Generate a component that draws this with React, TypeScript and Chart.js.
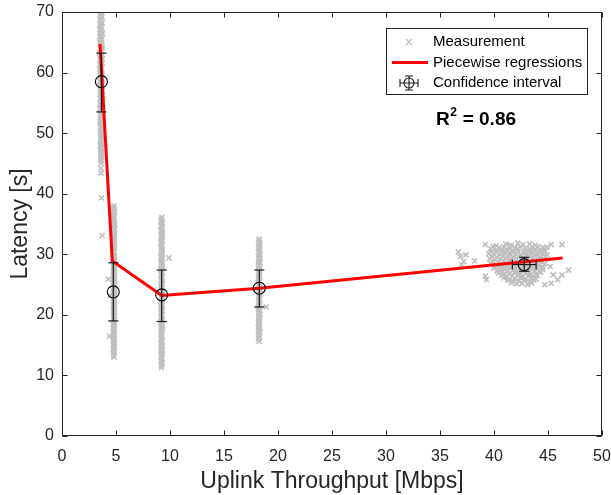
import React, { useEffect, useRef } from "react";
import { Chart, registerables } from "chart.js";

Chart.register(...registerables);

// ---------- DATA ----------
const xTicksMax = 50;
const yTicksMax = 70;

// Measurement clouds: [throughput Mbps, latency s]
const meas1: [number, number][] = [
  [3.62,70.2],[3.55,69.6],[3.7,69.1],[3.6,68.5],[3.52,68.0],[3.68,67.4],[3.58,66.9],[3.74,66.4],[3.5,65.9],[3.64,65.3],
  [3.56,64.8],[3.71,64.2],[3.6,63.7],[3.48,63.2],[3.66,62.6],[3.55,62.1],[3.73,61.6],[3.61,61.0],[3.5,60.5],[3.68,60.0],
  [3.57,59.4],[3.75,58.9],[3.63,58.3],[3.52,57.8],[3.69,57.3],[3.59,56.7],[3.74,56.2],[3.54,55.7],[3.66,55.1],[3.6,54.6],
  [3.49,54.0],[3.71,53.5],[3.58,53.0],[3.65,52.4],[3.53,51.9],[3.72,51.4],[3.61,50.8],[3.56,50.3],[3.68,49.7],[3.6,49.2],
  [3.64,48.6],[3.55,48.0],[3.7,47.5],[3.6,46.9],[3.66,46.3],[3.58,45.7],[3.63,45.0],[3.6,44.2],[3.62,43.4],[3.66,39.3],[3.72,33.1]
];
const meas1b: [number, number][] = [
  [3.57,69.9],[3.66,69.3],[3.53,68.8],[3.72,68.2],[3.6,67.7],[3.5,67.1],[3.69,66.6],[3.56,66.1],[3.65,65.6],[3.52,65.0],
  [3.7,64.5],[3.58,63.9],[3.67,63.4],[3.54,62.9],[3.73,62.3],[3.6,61.8],[3.51,61.3],[3.66,60.7],[3.56,60.2],[3.72,59.7],
  [3.62,59.1],[3.53,58.6],[3.68,58.0],[3.58,57.5],[3.74,57.0],[3.55,56.4],[3.64,55.9],[3.7,55.4],[3.52,54.8],[3.62,54.3],
  [3.67,53.7],[3.55,53.2],[3.71,52.7],[3.6,52.1],[3.56,51.6],[3.66,51.1],[3.63,50.5],[3.58,50.0],[3.7,49.4],[3.57,48.9],
  [3.66,48.3],[3.61,47.7],[3.55,47.2],[3.68,46.6],[3.6,46.0],[3.65,45.4]
];
const meas2: [number, number][] = [
  [4.82,38.0],[4.76,37.4],[4.86,36.9],[4.8,36.3],[4.73,35.8],[4.84,35.2],[4.78,34.7],[4.88,34.1],[4.75,33.6],[4.82,33.0],
  [4.79,32.5],[4.85,31.9],[4.74,31.4],[4.81,30.8],[4.77,30.3],[4.87,29.7],[4.8,29.2],[4.74,28.6],[4.83,28.1],[4.78,27.5],
  [4.86,27.0],[4.76,26.4],[4.82,25.9],[4.79,25.3],[4.85,24.8],[4.73,24.2],[4.81,23.7],[4.77,23.1],[4.86,22.6],[4.8,22.0],
  [4.75,21.5],[4.84,20.9],[4.78,20.4],[4.88,19.8],[4.76,19.3],[4.82,18.7],[4.79,18.2],[4.85,17.6],[4.74,17.1],[4.81,16.5],
  [4.77,16.0],[4.86,15.4],[4.8,14.9],[4.75,14.3],[4.83,13.8],[4.79,13.2],[4.3,25.9],[4.38,16.5],[4.45,23.2]
];
const meas2b: [number, number][] = [
  [4.79,37.7],[4.84,37.1],[4.75,36.6],[4.83,36.0],[4.78,35.5],[4.87,34.9],[4.74,34.4],[4.81,33.8],[4.86,33.3],[4.77,32.7],
  [4.83,32.2],[4.76,31.6],[4.85,31.1],[4.79,30.5],[4.73,30.0],[4.84,29.4],[4.77,28.9],[4.86,28.3],[4.8,27.8],[4.75,27.2],
  [4.83,26.7],[4.79,26.1],[4.87,25.6],[4.74,25.0],[4.82,24.5],[4.78,23.9],[4.85,23.4],[4.76,22.8],[4.83,22.3],[4.78,21.7],
  [4.87,21.2],[4.75,20.6],[4.82,20.1],[4.79,19.5],[4.84,19.0],[4.74,18.4],[4.81,17.9],[4.77,17.3],[4.86,16.8],[4.79,16.2],
  [4.74,15.7],[4.83,15.1],[4.78,14.6],[4.85,14.0],[4.76,13.5],[4.82,13.0]
];
const meas3: [number, number][] = [
  [9.25,36.1],[9.18,35.5],[9.29,35.0],[9.22,34.4],[9.16,33.9],[9.27,33.3],[9.2,32.8],[9.31,32.2],[9.17,31.7],[9.24,31.1],
  [9.21,30.6],[9.28,30.0],[9.15,29.5],[9.23,28.9],[9.19,28.4],[9.3,27.8],[9.22,27.3],[9.16,26.7],[9.26,26.2],[9.2,25.6],
  [9.29,25.1],[9.18,24.5],[9.24,24.0],[9.21,23.4],[9.27,22.9],[9.15,22.3],[9.23,21.8],[9.19,21.2],[9.3,20.7],[9.22,20.1],
  [9.17,19.6],[9.26,19.0],[9.2,18.5],[9.31,17.9],[9.18,17.4],[9.24,16.8],[9.21,16.3],[9.28,15.7],[9.16,15.2],[9.23,14.6],
  [9.19,14.1],[9.29,13.5],[9.22,13.0],[9.17,12.4],[9.25,11.9],[9.21,11.3],[9.9,29.4]
];
const meas3b: [number, number][] = [
  [9.21,35.8],[9.27,35.2],[9.17,34.7],[9.25,34.1],[9.3,33.6],[9.19,33.0],[9.24,32.5],[9.16,31.9],[9.28,31.4],[9.2,30.8],
  [9.26,30.3],[9.18,29.7],[9.29,29.2],[9.21,28.6],[9.25,28.1],[9.17,27.5],[9.28,27.0],[9.23,26.4],[9.19,25.9],[9.27,25.3],
  [9.16,24.8],[9.22,24.2],[9.3,23.7],[9.18,23.1],[9.25,22.6],[9.2,22.0],[9.28,21.5],[9.17,20.9],[9.24,20.4],[9.2,19.8],
  [9.29,19.3],[9.16,18.7],[9.23,18.2],[9.27,17.6],[9.19,17.1],[9.25,16.5],[9.17,16.0],[9.24,15.4],[9.3,14.9],[9.2,14.3],
  [9.26,13.8],[9.18,13.2],[9.23,12.7],[9.28,12.1],[9.2,11.6]
];
const meas4: [number, number][] = [
  [18.28,32.5],[18.21,31.9],[18.32,31.4],[18.25,30.8],[18.19,30.3],[18.3,29.7],[18.23,29.2],[18.34,28.6],[18.2,28.1],[18.27,27.5],
  [18.24,27.0],[18.31,26.4],[18.18,25.9],[18.26,25.3],[18.22,24.8],[18.33,24.2],[18.25,23.7],[18.19,23.1],[18.29,22.6],[18.23,22.0],
  [18.32,21.5],[18.21,20.9],[18.27,20.4],[18.24,19.8],[18.3,19.3],[18.18,18.7],[18.26,18.2],[18.22,17.6],[18.33,17.1],[18.25,16.5],
  [18.2,16.0],[18.27,15.6],[18.9,21.3]
];
const meas4b: [number, number][] = [
  [18.24,32.2],[18.3,31.6],[18.2,31.1],[18.27,30.5],[18.33,30.0],[18.22,29.4],[18.28,28.9],[18.19,28.3],[18.31,27.8],[18.23,27.2],
  [18.29,26.7],[18.2,26.1],[18.32,25.6],[18.24,25.0],[18.28,24.5],[18.19,23.9],[18.3,23.4],[18.26,22.8],[18.21,22.3],[18.29,21.7],
  [18.18,21.2],[18.25,20.6],[18.33,20.1],[18.21,19.5],[18.27,19.0],[18.23,18.4],[18.31,17.9],[18.19,17.3],[18.26,16.8],[18.22,16.2]
];
const meas5: [number, number][] = [
  [41.1,31.7],[41.6,31.5],[42.2,31.8],[42.7,31.6],[43.3,31.7],[43.8,31.5],
  [39.7,30.9],[40.2,30.7],[40.7,30.9],[41.2,30.8],[41.7,30.6],[42.2,30.9],[42.8,30.7],[43.3,30.9],[43.8,30.8],[44.3,30.6],[44.7,30.9],
  [39.5,30.1],[40.0,29.9],[40.5,30.0],[41.0,30.2],[41.5,29.9],[42.0,30.1],[42.5,29.8],[43.0,30.0],[43.5,30.2],[44.0,29.9],[44.5,30.1],[44.9,29.9],
  [39.6,29.3],[40.1,29.1],[40.6,29.2],[41.1,29.4],[41.6,29.1],[42.1,29.3],[42.6,29.0],[43.1,29.2],[43.6,29.4],[44.1,29.1],[44.6,29.3],
  [39.7,28.5],[40.2,28.3],[40.7,28.4],[41.2,28.6],[41.7,28.3],[42.2,28.5],[42.7,28.2],[43.2,28.4],[43.7,28.6],[44.2,28.3],[44.7,28.4],
  [40.0,27.7],[40.5,27.5],[41.0,27.6],[41.5,27.8],[42.0,27.5],[42.5,27.7],[43.0,27.4],[43.5,27.6],[44.0,27.8],[44.5,27.5],
  [40.4,26.9],[40.9,26.7],[41.4,26.8],[41.9,27.0],[42.4,26.7],[42.9,26.9],[43.4,26.6],[43.9,26.8],[44.3,27.0],
  [40.9,26.1],[41.4,25.9],[41.9,26.0],[42.4,26.2],[42.9,25.9],[43.4,26.1],[43.9,25.9],
  [41.6,25.3],[42.1,25.1],[42.6,25.2],[43.1,25.0],[43.5,25.3],
  [36.7,30.4],[36.9,29.6],[37.2,28.8],[37.4,29.9],[37.0,28.3],[38.2,28.9],[39.2,31.6],[39.2,26.4],[39.3,25.8],
  [45.3,31.6],[46.3,31.6],[45.2,28.0],[45.5,26.6],[46.3,26.6],[45.3,25.2],[45.9,25.8],[44.7,25.0],[46.9,27.4],[40.2,31.4],[44.9,31.2]
];
const meas5b: [number, number][] = [
  [39.9,31.3],[40.45,31.1],[40.95,31.2],[41.45,31.4],[41.95,31.1],[42.45,31.3],[42.95,31.0],[43.55,31.2],[44.05,31.3],[44.5,31.1],
  [39.75,30.5],[40.25,30.3],[40.75,30.4],[41.25,30.6],[41.75,30.3],[42.25,30.5],[42.75,30.2],[43.25,30.4],[43.75,30.6],[44.25,30.3],[44.7,30.5],
  [39.8,29.7],[40.3,29.5],[40.8,29.6],[41.3,29.8],[41.8,29.5],[42.3,29.7],[42.8,29.4],[43.3,29.6],[43.8,29.8],[44.3,29.5],[44.75,29.6],
  [39.9,28.9],[40.4,28.7],[40.9,28.8],[41.4,29.0],[41.9,28.7],[42.4,28.9],[42.9,28.6],[43.4,28.8],[43.9,29.0],[44.4,28.7],
  [40.1,28.1],[40.6,27.9],[41.1,28.0],[41.6,28.2],[42.1,27.9],[42.6,28.1],[43.1,27.8],[43.6,28.0],[44.1,28.2],[44.5,27.9],
  [40.3,27.3],[40.8,27.1],[41.3,27.2],[41.8,27.4],[42.3,27.1],[42.8,27.3],[43.3,27.0],[43.8,27.2],[44.2,27.4],
  [40.7,26.5],[41.2,26.3],[41.7,26.4],[42.2,26.6],[42.7,26.3],[43.2,26.5],[43.7,26.3],[44.0,26.5],
  [41.3,25.7],[41.8,25.5],[42.3,25.6],[42.8,25.8],[43.3,25.5],[43.7,25.7]
];

// Piecewise regression breakpoints
const regX = [3.52, 4.66, 9.23, 18.27, 46.35];
const regY = [64.7, 28.9, 23.2, 24.4, 29.4];

// Confidence intervals
const ciX = [3.65, 4.75, 9.23, 18.27, 42.8];
const ciY = [58.5, 23.8, 23.3, 24.4, 28.3];
const ciLow = [53.5, 19.0, 18.9, 21.3, 27.2];
const ciHigh = [63.2, 28.6, 27.4, 27.4, 29.5];
const ciXErr = [0, 0, 0, 0, 1.1];

const legendLabels = ["Measurement", "Piecewise regressions", "Confidence interval"];
const rSquared = "0.86";
const xTitle = "Uplink Throughput [Mbps]";
const yTitle = "Latency [s]";

const FONT = "'Liberation Sans', Arial, Helvetica, sans-serif";
const AXIS = "#262626";
const GRAY = "#bfbfbf";

const toPts = (a: [number, number][]) => a.map(([x, y]) => ({ x, y }));

const overlayPlugin = {
  id: "overlay",
  afterDatasetsDraw(chart: any) {
    const { ctx, scales } = chart;
    const xs = scales.x, ys = scales.y;
    ctx.save();
    ctx.strokeStyle = "#1a1a1a";
    ctx.lineWidth = 1.2;
    const line = (x1: number, y1: number, x2: number, y2: number) => {
      ctx.beginPath(); ctx.moveTo(x1, y1); ctx.lineTo(x2, y2); ctx.stroke();
    };
    for (let i = 0; i < ciX.length; i++) {
      const px = xs.getPixelForValue(ciX[i]);
      const py = ys.getPixelForValue(ciY[i]);
      const lo = ys.getPixelForValue(ciLow[i]);
      const hi = ys.getPixelForValue(ciHigh[i]);
      line(px, lo, px, hi);
      line(px - 5, lo, px + 5, lo);
      line(px - 5, hi, px + 5, hi);
      if (ciXErr[i] > 0) {
        const l = xs.getPixelForValue(ciX[i] - ciXErr[i]);
        const r = xs.getPixelForValue(ciX[i] + ciXErr[i]);
        line(l, py, r, py);
        line(l, py - 5, l, py + 5);
        line(r, py - 5, r, py + 5);
      }
    }
    ctx.restore();
  },
  afterDraw(chart: any) {
    const { ctx, chartArea: ca, scales } = chart;
    const xs = scales.x, ys = scales.y;
    ctx.save();
    // frame
    ctx.strokeStyle = AXIS;
    ctx.lineWidth = 1;
    const L = Math.round(ca.left) + 0.5, R = Math.round(ca.right) - 0.5;
    const T = Math.round(ca.top) + 0.5, B = Math.round(ca.bottom) - 0.5;
    ctx.strokeRect(L, T, R - L, B - T);
    const tl = 5;
    ctx.beginPath();
    xs.ticks.forEach((t: any) => {
      const px = Math.round(xs.getPixelForValue(t.value)) + 0.5;
      ctx.moveTo(px, B); ctx.lineTo(px, B - tl);
      ctx.moveTo(px, T); ctx.lineTo(px, T + tl);
    });
    ys.ticks.forEach((t: any) => {
      const py = Math.round(ys.getPixelForValue(t.value)) + 0.5;
      ctx.moveTo(L, py); ctx.lineTo(L + tl, py);
      ctx.moveTo(R, py); ctx.lineTo(R - tl, py);
    });
    ctx.stroke();

    // legend
    const bx = ca.right - 216, by = ca.top + 16, bw = 201, bh = 66;
    ctx.fillStyle = "#ffffff";
    ctx.fillRect(bx, by, bw, bh);
    ctx.strokeStyle = AXIS;
    ctx.lineWidth = 1;
    ctx.strokeRect(Math.round(bx) + 0.5, Math.round(by) + 0.5, bw, bh);
    const symX = bx + 23;
    const textX = bx + 47;
    const rows = [by + 14, by + 34.5, by + 55];
    // cross
    ctx.strokeStyle = GRAY; ctx.lineWidth = 1.2;
    ctx.beginPath();
    ctx.moveTo(symX - 3, rows[0] - 3); ctx.lineTo(symX + 3, rows[0] + 3);
    ctx.moveTo(symX + 3, rows[0] - 3); ctx.lineTo(symX - 3, rows[0] + 3);
    ctx.stroke();
    // red line
    ctx.strokeStyle = "#ff0000"; ctx.lineWidth = 3;
    ctx.beginPath(); ctx.moveTo(bx + 6, rows[1]); ctx.lineTo(bx + 42, rows[1]); ctx.stroke();
    // CI symbol
    ctx.strokeStyle = "#1a1a1a"; ctx.lineWidth = 1.1;
    const cy = rows[2];
    ctx.beginPath();
    ctx.moveTo(symX, cy - 7); ctx.lineTo(symX, cy + 7);
    ctx.moveTo(symX - 4, cy - 7); ctx.lineTo(symX + 4, cy - 7);
    ctx.moveTo(symX - 4, cy + 7); ctx.lineTo(symX + 4, cy + 7);
    ctx.moveTo(symX - 9, cy); ctx.lineTo(symX + 9, cy);
    ctx.moveTo(symX - 9, cy - 4); ctx.lineTo(symX - 9, cy + 4);
    ctx.moveTo(symX + 9, cy - 4); ctx.lineTo(symX + 9, cy + 4);
    ctx.stroke();
    ctx.beginPath(); ctx.arc(symX, cy, 5, 0, Math.PI * 2); ctx.stroke();
    ctx.fillStyle = "#000";
    ctx.font = `15px ${FONT}`;
    ctx.textBaseline = "middle";
    ctx.textAlign = "left";
    legendLabels.forEach((lab, i) => ctx.fillText(lab, textX, rows[i]));

    // R^2
    const rx = ca.right - 166, ry = ca.top + 113;
    ctx.textBaseline = "alphabetic";
    ctx.font = `bold 19px ${FONT}`;
    ctx.fillText("R", rx, ry);
    const w1 = ctx.measureText("R").width;
    ctx.font = `bold 12px ${FONT}`;
    ctx.fillText("2", rx + w1 + 0.5, ry - 9);
    const w2 = ctx.measureText("2").width;
    ctx.font = `bold 19px ${FONT}`;
    ctx.fillText(" = " + rSquared, rx + w1 + w2 + 1, ry);
    ctx.restore();
  },
};

export default function App() {
  const ref = useRef<HTMLCanvasElement>(null);
  useEffect(() => {
    if (!ref.current) return;
    Chart.defaults.font.family = FONT;
    const measStyle = {
      label: "Measurement",
      pointStyle: "crossRot" as const,
      pointRadius: 3.6,
      borderColor: GRAY,
      backgroundColor: GRAY,
      borderWidth: 1.6,
      order: 2,
    };
    const chart = new Chart(ref.current, {
      type: "scatter",
      data: {
        datasets: [
          {
            label: "Confidence interval",
            data: ciX.map((x, i) => ({ x, y: ciY[i] })),
            pointStyle: "circle",
            pointRadius: 6,
            borderColor: "#000000",
            borderWidth: 1.1,
            backgroundColor: "rgba(0,0,0,0)",
            order: 0,
          },
          {
            label: "Piecewise regressions",
            data: regX.map((x, i) => ({ x, y: regY[i] })),
            showLine: true,
            borderColor: "#ff0000",
            backgroundColor: "#ff0000",
            borderWidth: 3,
            pointRadius: 0,
            order: 1,
          },
          ...[meas1, meas1b, meas2, meas2b, meas3, meas3b, meas4, meas4b, meas5, meas5b].map((m) => ({
            ...measStyle,
            data: toPts(m),
          })),
        ],
      },
      options: {
        animation: false,
        responsive: false,
        devicePixelRatio: 1,
        layout: { padding: { top: 12, right: 9, left: 0, bottom: 0 } },
        plugins: { legend: { display: false }, tooltip: { enabled: false } },
        scales: {
          x: {
            type: "linear",
            min: 0,
            max: xTicksMax,
            ticks: { stepSize: 5, color: AXIS, font: { size: 16, family: FONT }, padding: 11, maxRotation: 0 },
            grid: { display: false, drawTicks: false },
            border: { display: false },
            title: { display: true, text: xTitle, color: AXIS, font: { size: 23, family: FONT }, padding: { bottom: 0, top: 0 } },
            afterFit: (s: any) => { s.height = 59; s.paddingLeft = 0; s.paddingRight = 0; },
          },
          y: {
            type: "linear",
            min: 0,
            max: yTicksMax,
            ticks: { stepSize: 10, color: AXIS, font: { size: 16, family: FONT }, padding: 8 },
            grid: { display: false, drawTicks: false },
            border: { display: false },
            title: { display: true, text: yTitle, color: AXIS, font: { size: 23, family: FONT }, padding: { top: 7, bottom: 0 } },
            afterFit: (s: any) => { s.width = 62; s.paddingTop = 0; s.paddingBottom = 0; },
          },
        },
      },
      plugins: [overlayPlugin],
    } as any);
    return () => chart.destroy();
  }, []);
  return (
    <div style={{ position: "absolute", left: 0, top: 0, width: 611, height: 495, background: "#fff" }}>
      <canvas ref={ref} width={611} height={495} style={{ display: "block", width: 611, height: 495 }} />
    </div>
  );
}
